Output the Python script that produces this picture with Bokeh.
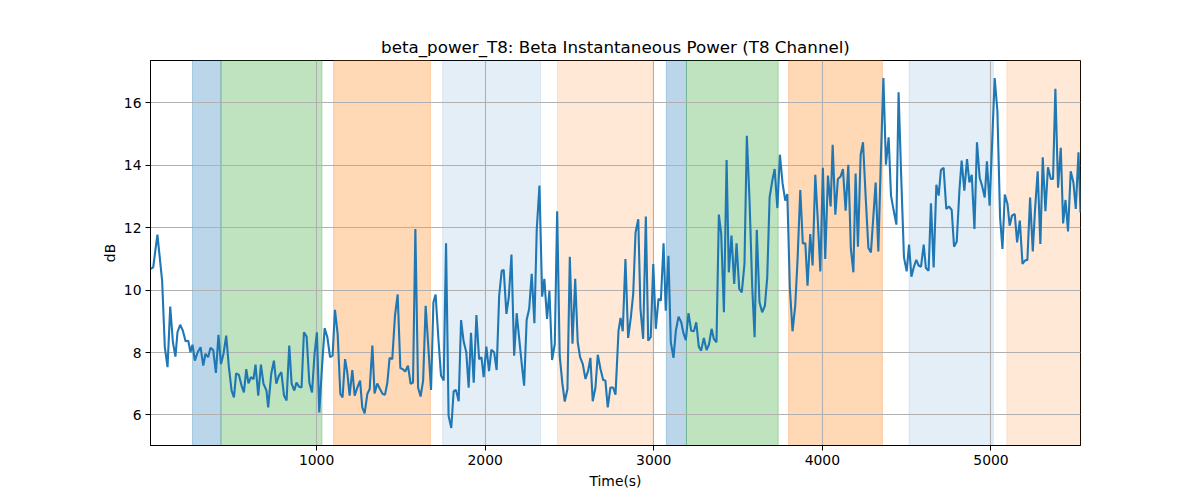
from bokeh.plotting import figure
from bokeh.models import BoxAnnotation, Range1d, FixedTicker
from bokeh.embed import file_html
from bokeh.resources import INLINE

time_s = [15, 31, 56, 84, 100, 116, 132, 148, 163, 175, 191, 207, 223, 239, 252, 264, 278, 294, 312, 328,
          341, 357, 371, 387, 403, 418, 433, 448, 464, 480, 496, 510, 523, 539, 555, 569, 583, 596, 611, 626,
          638, 654, 670, 685, 703, 713, 731, 747, 761, 777, 791, 807, 822, 838, 852, 868, 881, 896, 911, 925,
          941, 957, 973, 988, 1002, 1016, 1032, 1048, 1064, 1080, 1095, 1109, 1125, 1141, 1154, 1169, 1182, 1196, 1212, 1226,
          1242, 1258, 1271, 1285, 1301, 1315, 1331, 1344, 1360, 1376, 1392, 1406, 1420, 1433, 1449, 1465, 1481, 1497, 1510, 1526,
          1542, 1558, 1572, 1586, 1602, 1617, 1632, 1647, 1663, 1679, 1693, 1706, 1722, 1738, 1754, 1768, 1783, 1799, 1813, 1827,
          1843, 1857, 1872, 1888, 1902, 1916, 1932, 1948, 1964, 1978, 1991, 2007, 2023, 2037, 2053, 2068, 2083, 2098, 2110, 2126,
          2140, 2156, 2172, 2187, 2203, 2217, 2231, 2246, 2261, 2276, 2292, 2306, 2322, 2338, 2351, 2367, 2381, 2397, 2413, 2427,
          2442, 2458, 2472, 2488, 2502, 2518, 2534, 2549, 2563, 2579, 2595, 2611, 2624, 2638, 2654, 2668, 2684, 2700, 2713, 2727,
          2743, 2759, 2773, 2791, 2803, 2816, 2832, 2848, 2864, 2878, 2892, 2908, 2921, 2937, 2953, 2967, 2982, 2997, 3012, 3028,
          3042, 3058, 3071, 3087, 3101, 3117, 3131, 3147, 3163, 3176, 3190, 3206, 3222, 3238, 3252, 3267, 3281, 3297, 3313, 3327,
          3343, 3356, 3372, 3386, 3400, 3416, 3432, 3445, 3461, 3477, 3491, 3507, 3522, 3538, 3552, 3568, 3584, 3598, 3611, 3627,
          3643, 3659, 3673, 3687, 3703, 3717, 3733, 3748, 3764, 3780, 3792, 3807, 3823, 3839, 3853, 3869, 3884, 3899, 3912, 3928,
          3942, 3958, 3973, 3988, 4003, 4017, 4033, 4049, 4061, 4077, 4092, 4108, 4122, 4138, 4154, 4169, 4184, 4197, 4211, 4227,
          4241, 4257, 4273, 4288, 4302, 4316, 4332, 4347, 4362, 4377, 4393, 4407, 4423, 4439, 4452, 4468, 4484, 4500, 4514, 4528,
          4543, 4557, 4571, 4585, 4601, 4614, 4630, 4644, 4660, 4676, 4690, 4703, 4719, 4735, 4751, 4767, 4781, 4797, 4813, 4826,
          4842, 4858, 4872, 4886, 4902, 4917, 4933, 4947, 4963, 4976, 4992, 5009, 5022, 5038, 5054, 5068, 5082, 5098, 5111, 5125,
          5141, 5155, 5171, 5187, 5202, 5216, 5232, 5248, 5261, 5277, 5293, 5307, 5323, 5338, 5355, 5368, 5382, 5398, 5414, 5428,
          5442, 5457, 5473, 5489, 5503, 5519, 5531]

beta_power_db = [10.68, 10.73, 11.78, 10.30, 8.17, 7.53, 9.47, 8.33, 7.87, 8.65, 8.89, 8.70, 8.36, 8.38, 8.01, 8.25, 7.74, 8.00, 8.17, 7.58,
                 7.96, 7.85, 8.15, 8.08, 7.35, 8.57, 7.63, 7.96, 8.54, 7.53, 6.78, 6.56, 7.33, 7.29, 6.94, 6.72, 7.47, 7.01, 7.21, 7.15,
                 7.61, 6.62, 7.61, 7.00, 6.78, 6.24, 7.31, 7.74, 7.00, 7.26, 7.37, 6.62, 6.46, 8.22, 7.00, 6.78, 7.04, 6.90, 6.88, 8.65,
                 8.51, 7.04, 6.72, 7.96, 8.65, 6.08, 7.53, 8.78, 8.49, 7.85, 7.90, 9.37, 8.60, 6.67, 6.56, 7.79, 7.37, 6.62, 7.44, 6.62,
                 6.88, 7.10, 6.24, 6.05, 6.67, 6.83, 8.22, 6.69, 7.01, 6.83, 6.67, 6.65, 7.04, 7.83, 7.79, 9.18, 9.86, 7.50, 7.47, 7.39,
                 7.58, 7.00, 7.04, 11.96, 6.88, 6.59, 7.10, 9.50, 8.17, 6.80, 9.61, 9.86, 8.49, 7.26, 7.10, 11.50, 5.97, 5.58, 6.76, 6.80,
                 6.44, 9.04, 8.36, 8.01, 6.87, 8.63, 7.03, 9.20, 7.79, 7.85, 7.21, 8.19, 7.40, 8.09, 8.01, 7.44, 9.82, 10.62, 10.65, 9.24,
                 9.77, 11.14, 7.90, 9.26, 8.38, 7.63, 6.94, 9.04, 9.40, 10.52, 8.94, 11.96, 13.35, 9.79, 10.36, 9.08, 9.98, 7.76, 8.28, 12.53,
                 7.90, 7.00, 6.43, 6.83, 11.07, 8.28, 10.36, 8.33, 7.85, 7.63, 7.15, 7.42, 7.83, 6.44, 6.88, 7.93, 7.47, 7.12, 7.10, 6.24,
                 6.88, 6.88, 6.65, 8.70, 9.11, 8.68, 11.00, 8.47, 9.13, 9.88, 11.85, 12.27, 9.40, 8.44, 12.36, 8.38, 8.49, 10.84, 8.76, 9.72,
                 9.66, 11.50, 9.34, 11.10, 8.33, 7.83, 8.70, 9.15, 8.97, 8.62, 8.40, 9.26, 8.70, 8.68, 8.97, 8.19, 8.06, 8.47, 8.08, 8.25,
                 8.76, 8.44, 8.33, 12.42, 11.80, 9.29, 14.17, 10.57, 11.75, 10.20, 11.50, 10.04, 9.93, 10.84, 14.95, 12.87, 10.09, 8.49, 11.93, 9.61,
                 9.29, 9.50, 10.41, 12.97, 13.51, 13.88, 12.63, 14.34, 13.42, 12.87, 13.08, 10.09, 8.68, 9.50, 11.00, 13.21, 11.50, 11.50, 10.14, 11.80,
                 10.79, 13.70, 12.23, 10.60, 13.92, 11.00, 13.67, 12.68, 14.66, 12.42, 13.56, 13.64, 13.88, 12.55, 14.02, 11.32, 10.57, 13.74, 11.39, 14.34,
                 14.74, 12.97, 11.35, 11.21, 12.33, 13.45, 11.24, 14.20, 16.80, 14.02, 14.90, 13.03, 12.55, 12.10, 16.34, 13.56, 11.05, 10.60, 11.46, 10.43,
                 10.75, 10.97, 10.79, 10.75, 11.46, 10.71, 10.62, 12.78, 10.73, 13.38, 13.03, 13.85, 13.92, 12.60, 12.68, 12.57, 11.39, 11.56, 13.21, 14.15,
                 13.19, 14.20, 13.45, 13.70, 11.96, 14.74, 13.60, 13.35, 12.97, 14.13, 12.71, 15.01, 16.80, 15.75, 12.33, 11.32, 13.06, 12.76, 12.07, 12.39,
                 12.44, 11.53, 12.23, 10.84, 10.95, 10.97, 12.97, 11.24, 12.55, 13.81, 11.48, 14.26, 12.53, 13.94, 13.56, 13.56, 16.45, 13.28, 14.56, 12.14,
                 12.89, 11.88, 13.81, 13.45, 12.60, 14.42, 12.49]

span_start = [264, 433, 1101, 1748, 2429, 3075, 3194, 3800, 4514, 5094]
span_end = [433, 1032, 1675, 2328, 2997, 3194, 3738, 4356, 5014, 5540]
span_color = ["#1f77b4", "#2ca02c", "#ff7f0e", "#1f77b4", "#ff7f0e",
              "#1f77b4", "#2ca02c", "#ff7f0e", "#1f77b4", "#ff7f0e"]
span_alpha = [0.3, 0.3, 0.3, 0.12, 0.17, 0.3, 0.3, 0.3, 0.12, 0.17]

x_ticks = [1000, 2000, 3000, 4000, 5000]
y_ticks = [6, 8, 10, 12, 14, 16]

FONT = "DejaVu Sans"

p = figure(width=1200, height=500, output_backend="svg", toolbar_location=None,
           x_range=Range1d(min(time_s), max(time_s)), y_range=Range1d(5.02, 17.36),
           min_border_left=150, min_border_right=120, min_border_top=60, min_border_bottom=55,
           title="beta_power_T8: Beta Instantaneous Power (T8 Channel)")

for s, e, c, a in zip(span_start, span_end, span_color, span_alpha):
    p.add_layout(BoxAnnotation(left=s, right=e, fill_color=c, fill_alpha=a,
                               line_color=c, line_alpha=a, line_width=1, level="image"))

p.line(time_s, beta_power_db, line_color="#1f77b4", line_width=2.1)

p.title.align = "center"
p.title.text_font = FONT
p.title.text_font_size = "16.7px"
p.title.text_font_style = "normal"
p.title.text_color = "black"
p.title.standoff = 7

for ax in (p.xaxis[0], p.yaxis[0]):
    ax.major_label_text_font = FONT
    ax.major_label_text_font_size = "13.9px"
    ax.major_label_text_color = "black"
    ax.axis_label_text_font = FONT
    ax.axis_label_text_font_size = "13.9px"
    ax.axis_label_text_font_style = "normal"
    ax.axis_label_text_color = "black"
    ax.axis_line_color = "black"
    ax.major_tick_line_color = "black"
    ax.major_tick_out = 5
    ax.major_tick_in = 0
    ax.minor_tick_line_color = None
    ax.major_label_standoff = 4

p.xaxis.ticker = FixedTicker(ticks=x_ticks)
p.yaxis.ticker = FixedTicker(ticks=y_ticks)
p.xaxis.axis_label = "Time(s)"
p.yaxis.axis_label = "dB"
p.xaxis.axis_label_standoff = 5
p.yaxis.axis_label_standoff = 3

p.xgrid.grid_line_color = "#b0b0b0"
p.ygrid.grid_line_color = "#b0b0b0"
p.xgrid.grid_line_width = 1.1
p.ygrid.grid_line_width = 1.1

p.outline_line_color = "black"
p.outline_line_alpha = 1
p.outline_line_width = 1

open("out.html", "w").write(file_html(p, INLINE))
